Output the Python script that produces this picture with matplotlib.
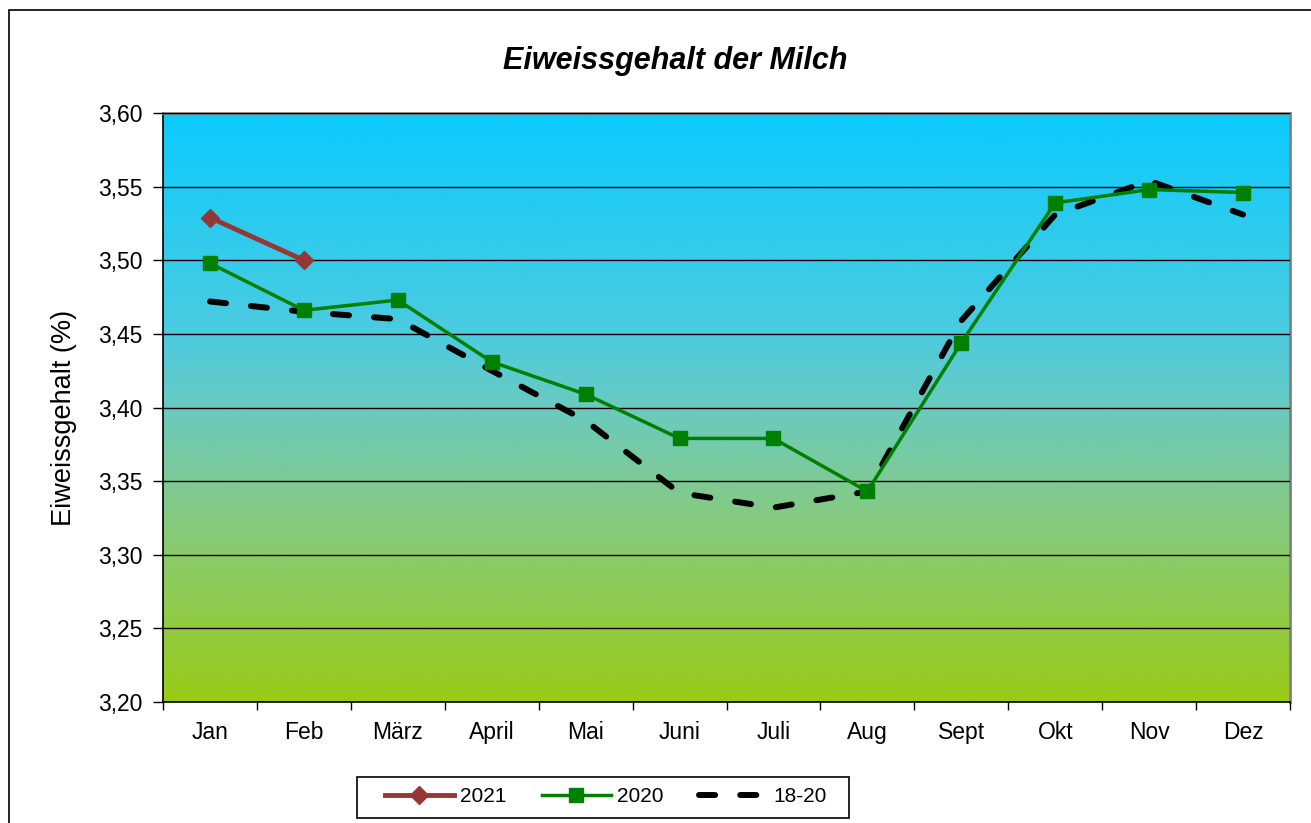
import numpy as np
import matplotlib.pyplot as plt
from matplotlib.colors import LinearSegmentedColormap
from matplotlib.patches import Rectangle

# Daten
monate = ['Jan', 'Feb', 'März', 'April', 'Mai', 'Juni', 'Juli', 'Aug', 'Sept', 'Okt', 'Nov', 'Dez']
werte_2021 = [3.529, 3.500]
werte_2020 = [3.498, 3.466, 3.473, 3.431, 3.409, 3.379, 3.379, 3.343, 3.444, 3.539, 3.548, 3.546]
werte_18_20 = [3.472, 3.465, 3.460, 3.425, 3.391, 3.342, 3.332, 3.343, 3.459, 3.531, 3.554, 3.531]
y_ticks = [3.20, 3.25, 3.30, 3.35, 3.40, 3.45, 3.50, 3.55, 3.60]

plt.rcParams['font.family'] = ['Liberation Sans', 'DejaVu Sans']

fig = plt.figure(figsize=(13.11, 8.23), dpi=100)
ax = fig.add_axes([163 / 1311, 1 - 702 / 823, (1290 - 163) / 1311, (702 - 113) / 823])

# Rahmen um das Diagramm
fig.patches.append(Rectangle((9 / 1311, -0.01), 1.1, 1 - 10 / 823 + 0.01, transform=fig.transFigure,
                             fill=False, edgecolor='black', linewidth=1.2))

# Farbverlauf im Hintergrund (unten gruen, oben blau)
verlauf = LinearSegmentedColormap.from_list('verlauf', [
    (0.0, '#99cb18'), (0.25, '#8bcb6c'), (0.375, '#7eca96'),
    (0.5, '#6acac0'), (0.625, '#4ccbe0'), (1.0, '#0ccbfe')])
ax.imshow(np.linspace(0, 1, 256).reshape(-1, 1), cmap=verlauf, aspect='auto',
          extent=[0, 1, 0, 1], transform=ax.transAxes, origin='lower', zorder=0)

x = np.arange(len(monate))
ax.plot(x, werte_18_20, color='black', linewidth=4.3, linestyle=(0, (2.7, 4.2)),
        dash_capstyle='round', label='18-20', zorder=3)
ax.plot(x, werte_2020, color='#008000', linewidth=2.5, marker='s', markersize=10.5,
        label='2020', zorder=4)
ax.plot(x[:len(werte_2021)], werte_2021, color='#953735', linewidth=3.5, marker='D',
        markersize=9, label='2021', zorder=5)

ax.set_xlim(-0.5, len(monate) - 0.5)
ax.set_ylim(3.20, 3.60)
ax.set_yticks(y_ticks)
ax.set_yticklabels([f'{v:.2f}'.replace('.', ',') for v in y_ticks], fontsize=16.5)
ax.set_xticks(x)
ax.set_xticklabels(monate, fontsize=16.5)
ax.tick_params(axis='x', length=0, pad=14)
ax.set_xticks(np.arange(-0.5, len(monate), 1), minor=True)
ax.tick_params(axis='x', which='minor', length=6, width=1)
ax.tick_params(axis='y', length=7, width=1, pad=8)
ax.grid(True, axis='y', color='black', linewidth=1, zorder=1)
ax.set_axisbelow(False)
for linie in ax.get_ygridlines():
    linie.set_zorder(1)

ax.spines['top'].set_color('#808080')
ax.spines['right'].set_color('#808080')
ax.spines['top'].set_linewidth(2)
ax.spines['right'].set_linewidth(2)
ax.spines['left'].set_linewidth(1.2)
ax.spines['bottom'].set_linewidth(1.2)

ax.set_ylabel('Eiweissgehalt (%)', fontsize=19.5)
ax.yaxis.set_label_coords(-0.076, 0.482)
fig.text(0.515, 1 - 61 / 823, 'Eiweissgehalt der Milch', ha='center', va='center',
         fontsize=22, fontweight='bold', fontstyle='italic')

# Legende ohne eigenen Rahmen, Rahmen separat gezeichnet
leg = fig.legend(handles=ax.get_legend_handles_labels()[0][::-1], labels=['2021', '2020', '18-20'],
                 loc='center', bbox_to_anchor=(606 / 1311, 1 - 797 / 823), ncol=3, fontsize=15,
                 frameon=False, handlelength=3.3, columnspacing=1.7, handletextpad=0.3)
fig.patches.append(Rectangle((357 / 1311, 1 - 818 / 823), (849 - 357) / 1311, 41 / 823,
                             transform=fig.transFigure, fill=False, edgecolor='black', linewidth=1.2))

fig.savefig('out.png', dpi=100)
